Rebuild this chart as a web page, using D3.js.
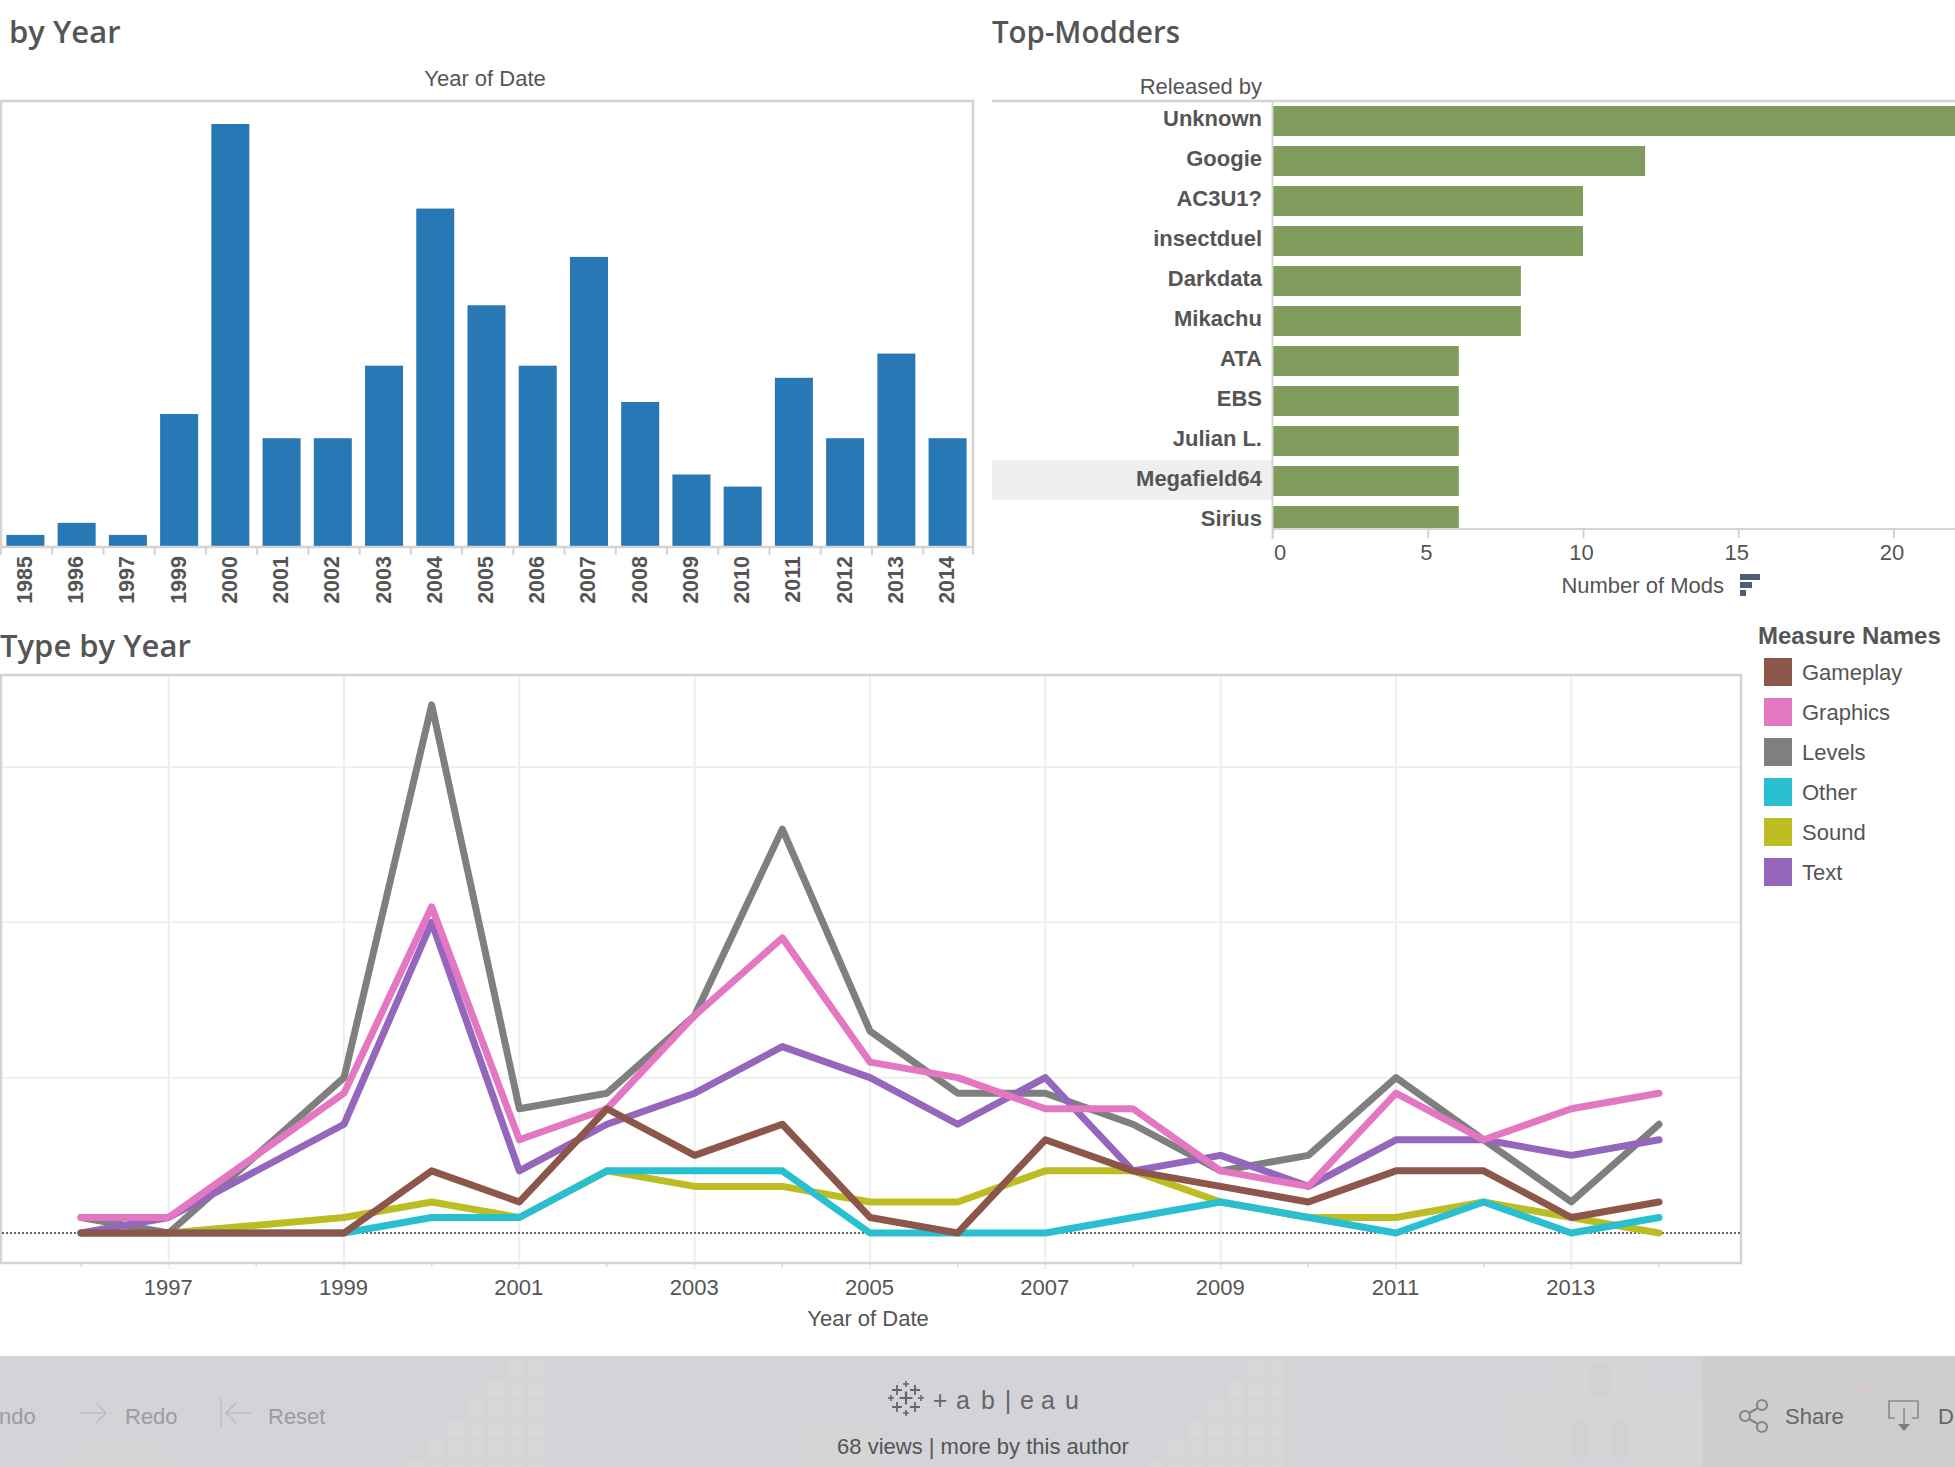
<!DOCTYPE html>
<html>
<head>
<meta charset="utf-8">
<script src="https://d3js.org/d3.v7.min.js"></script>
<style>
  html, body { margin: 0; padding: 0; background: #fff; overflow: hidden; }
  svg { display: block; }
  text { font-family: "Liberation Sans", Arial, sans-serif; fill: #555; }
  .title { font-family: "Open Sans", sans-serif; font-weight: 600; font-size: 31px; }
  .lbl { font-size: 22px; }
  .bold { font-weight: bold; }
  .frame { fill: none; stroke: #d4d4d4; stroke-width: 2.5; }
  .grid { stroke: #efefef; stroke-width: 2; }
  .domain { display: none; }
</style>
</head>
<body>
<div id="chart"></div>
<script>
// Mods per year
const barYears = ["1985","1996","1997","1999","2000","2001","2002","2003","2004","2005","2006","2007","2008","2009","2010","2011","2012","2013","2014"];
const barCounts = [1,2,1,11,35,9,9,15,28,20,15,24,12,6,5,14,9,16,9];

// Top modders
const modders = ["Unknown","Googie","AC3U1?","insectduel","Darkdata","Mikachu","ATA","EBS","Julian L.","Megafield64","Sirius"];
const modCounts = [24,12,10,10,8,8,6,6,6,6,6];
const modTicks = [0,5,10,15,20];

// Mod type by year, no data for 1998
const lineYears = [1996,1997,1999,2000,2001,2002,2003,2004,2005,2006,2007,2008,2009,2010,2011,2012,2013,2014];
const sound    = [0,0,1,2,1,4,3,3,2,2,4,4,2,1,1,2,1,0];
const other    = [0,0,0,1,1,4,4,4,0,0,0,1,2,1,0,2,0,1];
const levels   = [1,0,10,34,8,9,14,26,13,9,9,7,4,5,10,6,2,7];
const textMods = [0,1,7,20,4,7,9,12,10,7,10,4,5,3,6,6,5,6];
const graphics = [1,1,9,21,6,8,14,19,11,10,8,8,4,3,9,6,8,9];
const gameplay = [0,0,0,4,2,8,5,7,1,0,6,4,3,2,4,4,1,2];

const legendNames = ["Gameplay","Graphics","Levels","Other","Sound","Text"];
const legendColors = ["#8c564b","#e377c2","#7f7f7f","#28bfd0","#bcbd22","#9467bd"];
const xTickYears = [1997,1999,2001,2003,2005,2007,2009,2011,2013];
const xMinorYears = [1996,1998,2000,2002,2004,2006,2008,2010,2012,2014];
const yGrid = [10,20,30];

const svg = d3.select("#chart").append("svg").attr("width", 1955).attr("height", 1467);
const defs = svg.append("defs");

// Bars by year
function drawYearBars() {
    const top = 101, bottom = 547, right = 973;
    const x = d3.scaleBand().domain(barYears).range([0, right]).paddingInner(0.258).paddingOuter(0.125);
    const y = d3.scaleLinear().domain([0, 36.9]).range([bottom, top]);
    const step = x.step();

    svg.append("text").attr("class", "title").attr("x", 9).attr("y", 43).text("by Year");
    svg.append("text").attr("class", "lbl").attr("x", 485).attr("y", 86).attr("text-anchor", "middle").text("Year of Date");

    svg.append("g").selectAll("rect").data(barYears).join("rect")
        .attr("x", d => x(d))
        .attr("width", x.bandwidth())
        .attr("y", (d, i) => y(barCounts[i]))
        .attr("height", (d, i) => y(0) - y(barCounts[i]))
        .attr("fill", "#2878b5");

    svg.append("rect").attr("class", "frame").attr("x", 1).attr("y", top).attr("width", right - 1).attr("height", bottom - top);

    // Separators between the year labels
    svg.append("g").selectAll("line").data(d3.range(0, barYears.length + 1)).join("line")
        .attr("x1", i => Math.min(step * i + 1, right)).attr("x2", i => Math.min(step * i + 1, right))
        .attr("y1", bottom).attr("y2", bottom + 8)
        .attr("stroke", "#d4d4d4").attr("stroke-width", 2);

    const axis = svg.append("g").attr("transform", `translate(0,${bottom})`)
        .call(d3.axisBottom(x).tickSize(0));
    axis.selectAll("text")
        .attr("class", "bold")
        .attr("transform", "rotate(-90)")
        .attr("x", -9).attr("y", -1).attr("dy", "0.35em")
        .style("text-anchor", "end")
        .style("font-size", "21.5px")
        .style("font-family", '"Liberation Sans", Arial, sans-serif');
}

// Horizontal bars, runs off the right side like the original
function drawModders() {
    const top = 101, axisY = 529, zero = 1272.5;
    const x = d3.scaleLinear().domain([0, 20]).range([zero, 1893.5]);
    const y = d3.scaleBand().domain(modders).range([top, top + modders.length * 40]).paddingInner(0.25).paddingOuter(0.125);

    svg.append("text").attr("class", "title").attr("x", 992).attr("y", 43)
        .attr("textLength", 188).attr("lengthAdjust", "spacingAndGlyphs").text("Top-Modders");
    svg.append("text").attr("class", "lbl").attr("x", 1262).attr("y", 94).attr("text-anchor", "end").text("Released by");

    svg.append("rect").attr("x", 992).attr("y", y("Megafield64") - 6).attr("width", zero - 992).attr("height", 40).attr("fill", "#efefef");

    defs.append("clipPath").attr("id", "modClip").append("rect")
        .attr("x", zero).attr("y", top).attr("width", 1955 - zero).attr("height", axisY - top);

    svg.append("g").attr("clip-path", "url(#modClip)").selectAll("rect").data(modders).join("rect")
        .attr("x", x(0))
        .attr("y", d => y(d))
        .attr("width", (d, i) => x(modCounts[i]) - x(0))
        .attr("height", y.bandwidth())
        .attr("fill", "#7f9c5c");

    svg.append("g").selectAll("text").data(modders).join("text")
        .attr("class", "lbl bold")
        .attr("x", 1262)
        .attr("y", d => y(d) + 12)
        .attr("dy", "0.35em")
        .attr("text-anchor", "end")
        .text(d => d);

    svg.append("line").attr("x1", 992).attr("x2", 1955).attr("y1", top).attr("y2", top).attr("stroke", "#d4d4d4").attr("stroke-width", 2.5);
    svg.append("line").attr("x1", zero).attr("x2", zero).attr("y1", top).attr("y2", axisY + 10).attr("stroke", "#d4d4d4").attr("stroke-width", 2);
    svg.append("line").attr("x1", zero).attr("x2", 1955).attr("y1", axisY).attr("y2", axisY).attr("stroke", "#d4d4d4").attr("stroke-width", 2);

    const axis = svg.append("g").attr("transform", `translate(0,${axisY})`)
        .call(d3.axisBottom(x).tickValues(modTicks).tickSize(9).tickPadding(6));
    axis.selectAll("line").attr("stroke", "#d4d4d4").attr("stroke-width", 2);
    axis.selectAll("text").attr("class", "lbl")
        .style("font-size", "22px").style("font-family", '"Liberation Sans", Arial, sans-serif')
        .attr("dx", d => d === 0 ? 7 : -2);

    svg.append("text").attr("class", "lbl").attr("x", 1724).attr("y", 593).attr("text-anchor", "end").text("Number of Mods");
    // Sort indicator
    svg.append("g").selectAll("rect").data([20, 12, 6]).join("rect")
        .attr("x", 1740).attr("y", (d, i) => 574 + i * 8).attr("width", d => d).attr("height", 6).attr("fill", "#4e5d78");
}

// Lines by mod type
function drawLines() {
    const top = 675, bottom = 1263, right = 1741;
    const x = d3.scaleLinear().domain([1996, 2014]).range([81, 1659]);
    const y = d3.scaleLinear().domain([0, 30]).range([1233, 767]);

    svg.append("text").attr("class", "title").attr("x", 0).attr("y", 657).text("Type by Year");

    svg.append("g").selectAll("line").data(xTickYears).join("line").attr("class", "grid")
        .attr("x1", d => x(d)).attr("x2", d => x(d)).attr("y1", top).attr("y2", bottom + 6);
    svg.append("g").selectAll("line").data(yGrid).join("line").attr("class", "grid")
        .attr("x1", 0).attr("x2", right).attr("y1", d => y(d)).attr("y2", d => y(d));
    svg.append("g").selectAll("line").data(xMinorYears).join("line")
        .attr("stroke", "#d9d9d9").attr("stroke-width", 1.5)
        .attr("x1", d => x(d)).attr("x2", d => x(d)).attr("y1", bottom).attr("y2", bottom + 4);

    svg.append("rect").attr("class", "frame").attr("x", 1).attr("y", top).attr("width", right - 1).attr("height", bottom - top);

    svg.append("line").attr("x1", 2).attr("x2", right).attr("y1", y(0)).attr("y2", y(0))
        .attr("stroke", "#666").attr("stroke-width", 2).attr("stroke-dasharray", "2 2");

    const line = d3.line().x((d, i) => x(lineYears[i])).y(d => y(d));
    const series = [
        [sound, "#bcbd22"], [other, "#28bfd0"], [levels, "#7f7f7f"],
        [textMods, "#9467bd"], [graphics, "#e377c2"], [gameplay, "#8c564b"]
    ];
    svg.append("g").selectAll("path").data(series).join("path")
        .attr("d", d => line(d[0]))
        .attr("fill", "none")
        .attr("stroke", d => d[1])
        .attr("stroke-width", 7)
        .attr("stroke-linecap", "round")
        .attr("stroke-linejoin", "round");

    const axis = svg.append("g").attr("transform", `translate(0,${bottom})`)
        .call(d3.axisBottom(x).tickValues(xTickYears).tickFormat(d3.format("d")).tickSize(0).tickPadding(16));
    axis.selectAll("text").attr("class", "lbl")
        .style("font-size", "22px").style("font-family", '"Liberation Sans", Arial, sans-serif')
        .attr("dx", -1);
    svg.append("text").attr("class", "lbl").attr("x", 868).attr("y", 1326).attr("text-anchor", "middle").text("Year of Date");

    // Legend
    svg.append("text").attr("class", "lbl bold").attr("x", 1758).attr("y", 644).style("font-size", "24px").text("Measure Names");
    const item = svg.append("g").selectAll("g").data(legendNames).join("g")
        .attr("transform", (d, i) => `translate(1764,${658 + i * 40})`);
    item.append("rect").attr("width", 28).attr("height", 28).attr("fill", (d, i) => legendColors[i]);
    item.append("text").attr("class", "lbl").attr("x", 38).attr("y", 14).attr("dy", "0.35em").text(d => d);
}

// Faded stair of blocks from the page background behind the toolbar
function drawStairs(g, rightEdge) {
    d3.range(0, 6).forEach(r => {
        d3.range(0, r + 2).forEach(c => {
            g.append("rect")
                .attr("x", rightEdge - (c + 1) * 20).attr("y", 1360 + r * 20)
                .attr("width", 19).attr("height", 19)
                .attr("fill", "#d9d7d6").attr("stroke", "#d4d3d6").attr("stroke-width", 1.5);
        });
    });
}

// Toolbar strip at the bottom
function drawFooter() {
    svg.append("rect").attr("x", 0).attr("y", 1356).attr("width", 1955).attr("height", 111).attr("fill", "#d3d3d8");

    const bg = svg.append("g");
    drawStairs(bg, 547);
    drawStairs(bg, 1287);
    const castle = "#d7d5d4";
    // Small castles
    bg.append("rect").attr("x", 89).attr("y", 1438).attr("width", 63).attr("height", 29).attr("fill", castle);
    bg.append("rect").attr("x", 71).attr("y", 1460).attr("width", 99).attr("height", 7).attr("fill", castle);
    bg.append("rect").attr("x", 810).attr("y", 1430).attr("width", 60).attr("height", 37).attr("fill", castle);
    // Large castle
    bg.append("rect").attr("x", 1550).attr("y", 1356).attr("width", 100).attr("height", 46).attr("fill", castle);
    bg.append("rect").attr("x", 1510).attr("y", 1402).attr("width", 193).attr("height", 58).attr("fill", castle);
    bg.append("rect").attr("x", 1590).attr("y", 1362).attr("width", 20).attr("height", 36).attr("rx", 8).attr("fill", "#d2d2d4");
    bg.append("rect").attr("x", 1570).attr("y", 1420).attr("width", 20).attr("height", 40).attr("rx", 8).attr("fill", "#d2d2d4");
    bg.append("rect").attr("x", 1610).attr("y", 1420).attr("width", 20).attr("height", 40).attr("rx", 8).attr("fill", "#d2d2d4");

    // Darker panel on the right
    svg.append("rect").attr("x", 1703).attr("y", 1356).attr("width", 252).attr("height", 111).attr("fill", "#cecece");
    svg.append("circle").attr("cx", 1865).attr("cy", 1389).attr("r", 9).attr("fill", "#d3cbca");

    // Toolbar labels
    const faded = "#9c9ca0";
    svg.append("text").attr("class", "lbl").attr("x", -1).attr("y", 1424).style("fill", faded).text("ndo");
    svg.append("text").attr("class", "lbl").attr("x", 125).attr("y", 1424).style("fill", faded).text("Redo");
    svg.append("text").attr("class", "lbl").attr("x", 268).attr("y", 1424).style("fill", faded).text("Reset");
    svg.append("text").attr("class", "lbl").attr("x", 1785).attr("y", 1424).style("fill", "#666").text("Share");
    svg.append("text").attr("class", "lbl").attr("x", 1938).attr("y", 1424).style("fill", "#666").text("D");
    svg.append("text").attr("class", "lbl").attr("x", 983).attr("y", 1454).attr("text-anchor", "middle").text("68 views | more by this author");

    // Redo and reset arrows
    const arrow = d3.path();
    arrow.moveTo(80, 1413); arrow.lineTo(106, 1413); arrow.moveTo(96, 1403); arrow.lineTo(106, 1413); arrow.lineTo(96, 1423);
    arrow.moveTo(221, 1398); arrow.lineTo(221, 1427);
    arrow.moveTo(251, 1413); arrow.lineTo(226, 1413); arrow.moveTo(236, 1403); arrow.lineTo(226, 1413); arrow.lineTo(236, 1423);
    svg.append("path").attr("d", arrow.toString()).attr("fill", "none").attr("stroke", "#bdbdc1").attr("stroke-width", 1.5);

    // Share icon
    const share = svg.append("g").attr("fill", "none").attr("stroke", "#858585").attr("stroke-width", 2.2);
    share.append("path").attr("d", "M1749,1413L1758,1408M1749,1419L1758,1424");
    share.selectAll("circle").data([[1745, 1416], [1762, 1405], [1762, 1427]]).join("circle")
        .attr("cx", d => d[0]).attr("cy", d => d[1]).attr("r", 5);

    // Download icon
    svg.append("path").attr("d", "M1895,1418H1889V1401H1918V1418H1912M1904,1408V1428")
        .attr("fill", "none").attr("stroke", "#8a8a8a").attr("stroke-width", 1.6);
    svg.append("path").attr("d", "M1898,1424H1910L1904,1431Z").attr("fill", "#7c7c7c");

    // Tableau mark
    const logo = svg.append("g").attr("stroke", "#666").attr("fill", "none");
    const crosses = [[906,1398,6.5,2.2],[897,1390,5,1.8],[915,1390,5,1.8],[897,1407,5,1.8],[915,1407,5,1.8],
                     [906,1384,3,1.6],[906,1413,3,1.6],[891,1398,3,1.6],[921,1398,3,1.6]];
    logo.selectAll("path").data(crosses).join("path")
        .attr("d", d => `M${d[0] - d[2]},${d[1]}H${d[0] + d[2]}M${d[0]},${d[1] - d[2]}V${d[1] + d[2]}`)
        .attr("stroke-width", d => d[3]);
    const logoLetters = ["+", "a", "b", "|", "e", "a", "u"];
    const logoX = [940, 963, 988, 1008, 1027, 1048, 1072];
    svg.append("g").selectAll("text").data(logoLetters).join("text")
        .attr("x", (d, i) => logoX[i]).attr("y", 1409)
        .attr("text-anchor", "middle")
        .style("font-size", "25px").style("fill", "#666")
        .text(d => d);
}

drawYearBars();
drawModders();
drawLines();
drawFooter();
</script>
</body>
</html>
